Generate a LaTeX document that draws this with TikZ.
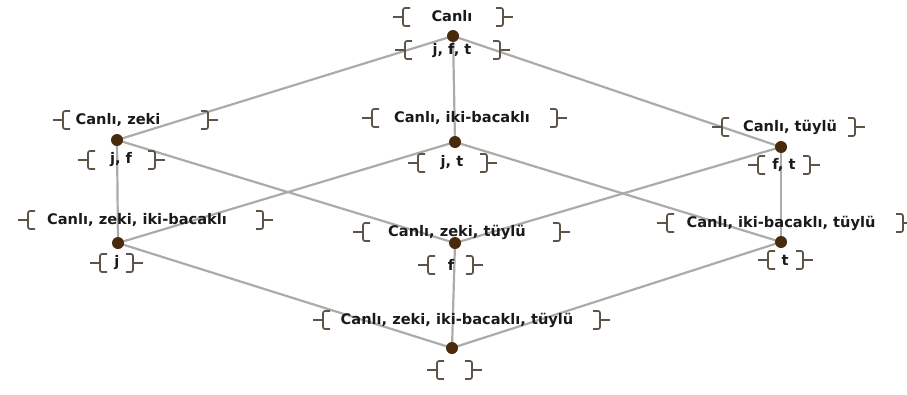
\documentclass[tikz,border=0pt]{standalone}
\usepackage{fontspec}
\setmainfont{DejaVu Sans}
\usetikzlibrary{backgrounds}
\definecolor{edgec}{HTML}{ABABAB}
\definecolor{dotc}{HTML}{4A2A0C}
\definecolor{brkc}{HTML}{5E5446}
\definecolor{txtc}{HTML}{1A1A1A}
\tikzset{
  lbl/.style={font=\bfseries\fontsize{14.6}{16}\selectfont, text=txtc, inner sep=0pt, anchor=center},
  concept/.style={circle, fill=dotc, minimum size=12pt, inner sep=0pt},
  edge/.style={draw=edgec, line width=2.2pt},
  brk/.style={draw=brkc, line width=1.7pt, rounded corners=2pt}
}
% a pair of label brackets: left x, right x, centre y
\newcommand\brpair[3]{%
  \draw[brk] (#1-10,#3) -- (#1,#3);
  \draw[brk] (#1+7,#3-9) -- (#1,#3-9) -- (#1,#3+9) -- (#1+7,#3+9);
  \draw[brk] (#2-7,#3-9) -- (#2,#3-9) -- (#2,#3+9) -- (#2-7,#3+9);
  \draw[brk] (#2,#3) -- (#2+10,#3);
}
\begin{document}
\begin{tikzpicture}[x=1pt,y=-1pt]
\useasboundingbox (0,0) rectangle (907,394);
% concepts
\node[concept] (c1) at (453,36) {};
\node[concept] (c2) at (117,140) {};
\node[concept] (c3) at (455,142) {};
\node[concept] (c4) at (781,147) {};
\node[concept] (c5) at (118,243) {};
\node[concept] (c6) at (455,243) {};
\node[concept] (c7) at (781,242) {};
\node[concept] (c8) at (452,348) {};
% order relation
\begin{scope}[on background layer]
\draw[edge] (c1.center) -- (c2.center);
\draw[edge] (c1.center) -- (c3.center);
\draw[edge] (c1.center) -- (c4.center);
\draw[edge] (c2.center) -- (c5.center);
\draw[edge] (c2.center) -- (c6.center);
\draw[edge] (c3.center) -- (c5.center);
\draw[edge] (c3.center) -- (c7.center);
\draw[edge] (c4.center) -- (c6.center);
\draw[edge] (c4.center) -- (c7.center);
\draw[edge] (c5.center) -- (c8.center);
\draw[edge] (c6.center) -- (c8.center);
\draw[edge] (c7.center) -- (c8.center);
\end{scope}
% intents
\node[lbl] (i1) at (452,16) {Canlı};
\brpair{403}{503}{17}
\node[lbl] (i2) at (118,120) {Canlı, zeki};
\brpair{63}{208}{120}
\node[lbl] (i3) at (462,118) {Canlı, iki-bacaklı};
\brpair{372}{557}{118}
\node[lbl] (i4) at (790,127) {Canlı, tüylü};
\brpair{722}{855}{127}
\node[lbl] (i5) at (137,220) {Canlı, zeki, iki-bacaklı};
\brpair{28}{263}{220}
\node[lbl] (i6) at (457,232) {Canlı, zeki, tüylü};
\brpair{363}{560}{232}
\node[lbl] (i7) at (781,223) {Canlı, iki-bacaklı, tüylü};
\brpair{667}{903}{223}
\node[lbl] (i8) at (457,320) {Canlı, zeki, iki-bacaklı, tüylü};
\brpair{323}{600}{320}
% extents
\node[lbl] (e1) at (452,51) {j, f, t};
\brpair{405}{500}{50}
\node[lbl] (e2) at (121,160) {j, f};
\brpair{88}{155}{160}
\node[lbl] (e3) at (452,163) {j, t};
\brpair{418}{487}{163}
\node[lbl] (e4) at (784,165) {f, t};
\brpair{758}{810}{165}
\node[lbl] (e5) at (117,263) {j};
\brpair{100}{133}{263}
\node[lbl] (e6) at (451,265) {f};
\brpair{428}{473}{265}
\node[lbl] (e7) at (785,260) {t};
\brpair{768}{803}{260}
\brpair{437}{472}{370}
\end{tikzpicture}
\end{document}
